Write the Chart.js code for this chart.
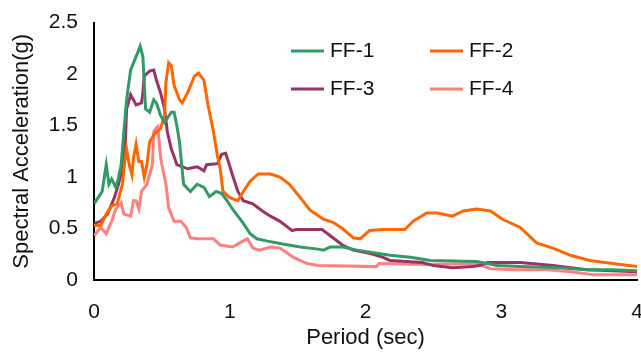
<!DOCTYPE html>
<html>
<head>
<meta charset="utf-8">
<script src="https://cdn.jsdelivr.net/npm/chart.js@4.4.1/dist/chart.umd.min.js"></script>
<style>
html,body{margin:0;padding:0;background:#fff;}
#wrap{width:641px;height:353px;position:relative;}
</style>
</head>
<body>
<div id="wrap"><canvas id="c" width="641" height="353"></canvas></div>
<script>
const seriesNames = ["FF-1", "FF-2", "FF-3", "FF-4"];
const seriesColors = ["#339966", "#FF6600", "#993366", "#FF8080"];
const xTickLabels = [0, 1, 2, 3, 4];
const yTickLabels = [0, 0.5, 1, 1.5, 2, 2.5];

const ff1 = [[0,0.74],[0.06,0.86],[0.09,1.12],[0.11,0.93],[0.13,0.98],[0.16,0.9],[0.18,0.99],[0.2,1.12],[0.22,1.44],[0.24,1.75],[0.27,2.04],[0.31,2.17],[0.34,2.27],[0.36,2.17],[0.37,1.92],[0.38,1.66],[0.41,1.63],[0.44,1.75],[0.46,1.72],[0.49,1.6],[0.52,1.53],[0.57,1.63],[0.59,1.63],[0.61,1.5],[0.63,1.34],[0.64,1.2],[0.66,0.93],[0.71,0.86],[0.76,0.93],[0.81,0.9],[0.85,0.81],[0.9,0.86],[0.94,0.84],[0.98,0.77],[1.02,0.69],[1.1,0.55],[1.15,0.45],[1.2,0.4],[1.27,0.38],[1.39,0.35],[1.52,0.32],[1.65,0.3],[1.69,0.29],[1.74,0.32],[1.83,0.32],[1.94,0.29],[2.18,0.24],[2.33,0.22],[2.48,0.19],[2.82,0.18],[2.97,0.14],[3.14,0.13],[3.43,0.12],[3.63,0.1],[3.82,0.1],[4.0,0.09]];
const ff2 = [[0,0.53],[0.05,0.53],[0.09,0.64],[0.13,0.72],[0.17,0.74],[0.21,0.93],[0.22,1.08],[0.24,1.27],[0.26,1.12],[0.28,1.02],[0.29,1.18],[0.31,1.32],[0.33,1.15],[0.35,1.15],[0.37,1.0],[0.39,1.12],[0.41,1.34],[0.44,1.41],[0.49,1.47],[0.52,1.6],[0.53,1.92],[0.55,2.11],[0.57,2.08],[0.59,1.89],[0.63,1.75],[0.65,1.72],[0.69,1.82],[0.74,1.98],[0.77,2.01],[0.81,1.94],[0.84,1.7],[0.88,1.44],[0.91,1.2],[0.93,1.08],[0.95,0.86],[1.0,0.8],[1.06,0.77],[1.1,0.86],[1.15,0.96],[1.21,1.03],[1.3,1.03],[1.37,1.0],[1.44,0.93],[1.52,0.8],[1.59,0.68],[1.69,0.59],[1.76,0.56],[1.83,0.5],[1.91,0.41],[1.96,0.4],[2.03,0.48],[2.13,0.49],[2.29,0.49],[2.35,0.57],[2.45,0.65],[2.53,0.65],[2.64,0.62],[2.72,0.67],[2.82,0.69],[2.92,0.67],[3.01,0.59],[3.14,0.51],[3.26,0.36],[3.38,0.31],[3.51,0.24],[3.65,0.19],[3.82,0.16],[4.0,0.13]];
const ff3 = [[0,0.55],[0.05,0.57],[0.1,0.64],[0.15,0.8],[0.18,0.93],[0.21,1.08],[0.23,1.3],[0.24,1.66],[0.27,1.8],[0.29,1.75],[0.31,1.7],[0.35,1.72],[0.36,1.82],[0.37,1.98],[0.41,2.03],[0.44,2.04],[0.46,1.94],[0.49,1.82],[0.52,1.66],[0.54,1.44],[0.57,1.27],[0.59,1.2],[0.61,1.12],[0.69,1.08],[0.76,1.1],[0.81,1.06],[0.83,1.12],[0.91,1.13],[0.94,1.22],[0.97,1.23],[0.99,1.15],[1.02,1.02],[1.06,0.86],[1.1,0.77],[1.17,0.74],[1.24,0.67],[1.3,0.62],[1.37,0.57],[1.46,0.48],[1.49,0.49],[1.65,0.49],[1.68,0.49],[1.76,0.41],[1.83,0.34],[1.91,0.29],[2.03,0.26],[2.13,0.22],[2.18,0.19],[2.42,0.17],[2.5,0.14],[2.64,0.12],[2.79,0.13],[2.84,0.14],[2.9,0.17],[3.14,0.17],[3.38,0.14],[3.63,0.1],[4.0,0.08]];
const ff4 = [[0,0.43],[0.05,0.51],[0.09,0.45],[0.13,0.57],[0.16,0.69],[0.2,0.75],[0.22,0.64],[0.27,0.62],[0.29,0.77],[0.31,0.77],[0.33,0.69],[0.35,0.86],[0.39,0.93],[0.43,1.12],[0.44,1.44],[0.46,1.48],[0.47,1.49],[0.49,1.2],[0.5,1.12],[0.53,0.93],[0.55,0.7],[0.59,0.57],[0.64,0.57],[0.68,0.51],[0.71,0.41],[0.76,0.4],[0.88,0.4],[0.93,0.34],[1.02,0.32],[1.1,0.38],[1.13,0.4],[1.17,0.31],[1.22,0.29],[1.3,0.32],[1.37,0.31],[1.47,0.22],[1.57,0.16],[1.65,0.14],[2.08,0.13],[2.1,0.16],[2.45,0.15],[2.82,0.16],[2.92,0.11],[3.09,0.1],[3.34,0.1],[3.51,0.08],[3.68,0.05],[4.0,0.05]];

const seriesData = [ff1, ff2, ff3, ff4];
const FONT = "'Liberation Sans', Arial, sans-serif";

const legendPlugin = {
  id: 'gridLegend',
  afterDraw(chart) {
    const ctx = chart.ctx;
    const pos = [[291, 51], [430, 51], [291, 89], [430, 89]];
    ctx.save();
    chart.data.datasets.forEach((ds, i) => {
      const [x, y] = pos[i];
      ctx.strokeStyle = ds.borderColor;
      ctx.lineWidth = 3;
      ctx.beginPath();
      ctx.moveTo(x, y);
      ctx.lineTo(x + 33, y);
      ctx.stroke();
      ctx.fillStyle = '#111';
      ctx.font = '21px ' + FONT;
      ctx.textBaseline = 'middle';
      ctx.textAlign = 'left';
      ctx.fillText(ds.label, x + 39, y);
    });
    ctx.restore();
  }
};

new Chart(document.getElementById('c'), {
  type: 'line',
  data: {
    datasets: seriesNames.map((n, i) => ({
      label: n,
      data: seriesData[i].map(p => ({x: p[0], y: p[1]})),
      borderColor: seriesColors[i],
      backgroundColor: seriesColors[i],
      borderWidth: 3,
      pointRadius: 0,
      tension: 0,
      fill: false
    }))
  },
  options: {
    responsive: false,
    animation: false,
    layout: {padding: {left: 0, right: 4, top: 19, bottom: 0}},
    plugins: {legend: {display: false}, tooltip: {enabled: false}},
    scales: {
      x: {
        type: 'linear',
        min: 0, max: 4,
        afterBuildTicks(s) { s.ticks = xTickLabels.map(v => ({value: v})); },
        afterFit(s) { s.height = 73; s.paddingRight = 0; s.paddingLeft = 0; },
        grid: {display: false, drawTicks: true, tickLength: 7, tickWidth: 2, tickColor: '#000'},
        border: {display: true, color: '#000', width: 2},
        ticks: {color: '#111', font: {family: FONT, size: 21}, padding: 13, maxRotation: 0, callback: v => String(v)},
        title: {display: true, text: 'Period (sec)', color: '#111', font: {family: FONT, size: 22}, padding: {top: 0, bottom: 2}}
      },
      y: {
        type: 'linear',
        min: 0, max: 2.5,
        afterBuildTicks(s) { s.ticks = yTickLabels.map(v => ({value: v})); },
        afterFit(s) { s.width = 94; },
        grid: {display: false, drawTicks: true, tickLength: 6, tickWidth: 2, tickColor: '#000'},
        border: {display: true, color: '#000', width: 2},
        ticks: {color: '#111', font: {family: FONT, size: 21}, padding: 10, callback: v => String(v)},
        title: {display: true, text: 'Spectral Acceleration(g)', color: '#111', font: {family: FONT, size: 22}, padding: {top: 9, bottom: 0}}
      }
    }
  },
  plugins: [legendPlugin]
});
</script>
</body>
</html>
